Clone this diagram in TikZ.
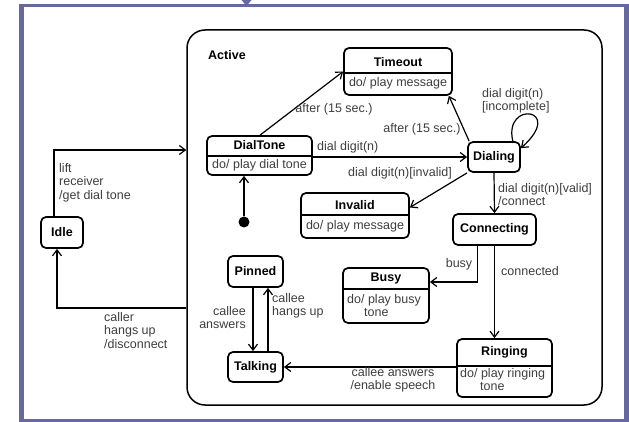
\documentclass[tikz,border=0pt]{standalone}
\usepackage{fontspec}
\setmainfont{Liberation Sans}
\usetikzlibrary{arrows.meta}
\definecolor{framecol}{RGB}{104,104,160}
\definecolor{labelgrey}{RGB}{62,62,62}
\begin{document}
\begin{tikzpicture}[x=1pt,y=-1pt,
  txt/.style={font=\fontsize{12.5}{13.5}\selectfont, text=labelgrey, inner sep=0pt},
  ttl/.style={font=\fontsize{12.5}{13.5}\selectfont\bfseries, text=black, inner sep=0pt},
  box/.style={draw, line width=1.7pt, rounded corners=5pt, inner sep=0pt},
  sep/.style={line width=1.3pt},
  arr/.style={line width=1.2pt, -{Straight Barb[length=6pt,width=9pt,line width=1.2pt]}}]

\useasboundingbox (0,0) rectangle (629,422);

% outer frame with its entry marker
\draw[framecol, line width=3pt] (21.5,5.5) rectangle (626.5,420);
\draw[framecol, line width=5pt] (21.5,4) -- (21.5,421.5);
\draw[framecol, line width=5pt] (626.5,4) -- (626.5,421.5);
\fill[framecol] (241.5,0) -- (251.5,0) -- (246.5,6) -- cycle;

% composite state
\node[draw, line width=1.5pt, rounded corners=18pt, minimum width=415pt, minimum height=375pt] (active) at (394.5,217.5) {};
\node[ttl, anchor=west] (activet) at (208,55) {Active};

% simple states
\node[box, minimum width=42pt, minimum height=31pt] (idle) at (62,232.5) {};
\node[ttl] (idlet) at (idle) {Idle};

\node[box, minimum width=52pt, minimum height=30pt] (dialing) at (494,157) {};
\node[ttl] (dialingt) at (dialing) {Dialing};

\node[box, minimum width=83pt, minimum height=31pt] (connecting) at (494.5,229.5) {};
\node[ttl] (connectingt) at (connecting) {Connecting};

\node[box, minimum width=55pt, minimum height=31pt] (pinned) at (255.5,271.5) {};
\node[ttl] (pinnedt) at (pinned) {Pinned};

\node[box, minimum width=55pt, minimum height=30pt] (talking) at (255.5,367) {};
\node[ttl] (talkingt) at (talking) {Talking};

% states with an activity compartment
\node[box, minimum width=108pt, minimum height=47pt] (timeout) at (398,71.5) {};
\draw[sep] (timeout.west |- 0,73) -- (timeout.east |- 0,73);
\node[ttl] (timeoutt) at (398,62) {Timeout};
\node[txt] (timeoutd) at (398,83.5) {do/ play message};

\node[box, minimum width=105pt, minimum height=39pt] (dialtone) at (259.5,155.5) {};
\draw[sep] (dialtone.west |- 0,156) -- (dialtone.east |- 0,156);
\node[ttl] (dialtonet) at (259.5,145) {DialTone};
\node[txt] (dialtoned) at (259.5,165.5) {do/ play dial tone};

\node[box, minimum width=108pt, minimum height=45pt] (invalid) at (355,215.5) {};
\draw[sep] (invalid.west |- 0,215) -- (invalid.east |- 0,215);
\node[ttl] (invalidt) at (355,205) {Invalid};
\node[txt] (invalidd) at (355,226) {do/ play message};

\node[box, minimum width=86pt, minimum height=55pt] (busy) at (386,295.5) {};
\draw[sep] (busy.west |- 0,289) -- (busy.east |- 0,289);
\node[ttl] (busyt) at (386,278) {Busy};
\node[txt, anchor=north west, align=left] (busyd) at (347,294) {do/ play busy\\\hspace*{17pt}tone};

\node[box, minimum width=95pt, minimum height=58pt] (ringing) at (504.5,368) {};
\draw[sep] (ringing.west |- 0,366) -- (ringing.east |- 0,366);
\node[ttl] (ringingt) at (504.5,352) {Ringing};
\node[txt, anchor=north west, align=left] (ringingd) at (460,368) {do/ play ringing\\\hspace*{20pt}tone};

% initial pseudo-state
\node[circle, fill=black, inner sep=0pt, minimum size=11pt] (init) at (244,222) {};

% transitions
\draw[arr] (init) -- (init |- dialtone.south);

\draw[arr] ([xshift=-8pt]idle.north) |- (active.west |- 0,150);
\node[txt, anchor=north west, align=left] (liftl) at (59,163) {lift\\receiver\\/get dial tone};

\draw[arr] (active.west |- 0,308) -| ([xshift=-5pt]idle.south);
\node[txt, anchor=north west, align=left] (hangl) at (104,312) {caller\\hangs up\\/disconnect};

\draw[arr] ([xshift=0.5pt]dialtone.north) -- (timeout.west);
\node[txt] (after1) at (334,109) {after (15 sec.)};

\draw[arr] ([xshift=2pt]dialing.north west) -- ([xshift=-4pt]timeout.south east);
\node[txt] (after2) at (422,129) {after (15 sec.)};

\draw[arr] (dialtone.east |- dialing.west) -- (dialing.west);
\node[txt, anchor=west] (digitl) at (317,147) {dial digit(n)};

\draw[arr] (dialing.south west) -- ([yshift=8pt]invalid.east);
\node[txt] (invalidl) at (400,173) {dial digit(n)[invalid]};

\draw[arr] ([xshift=-8pt]dialing.north east) .. controls (503,100) and (566,108) .. ([yshift=-7pt]dialing.north east);
\node[txt, anchor=north west, align=left] (incl) at (482,88) {dial digit(n)\\{}[incomplete]};

\draw[arr] (dialing.south) -- (connecting.north);
\node[txt, anchor=north west, align=left] (validl) at (498,183) {dial digit(n)[valid]\\/connect};

\draw[arr] ([xshift=-17pt]connecting.south) |- ([yshift=13.5pt]busy.east);
\node[txt] (busyl) at (459,264) {busy};

\draw[arr] (connecting.south) -- (connecting.south |- ringing.north);
\node[txt, anchor=west] (connl) at (501,271) {connected};

\draw[arr] (ringing.west |- talking.east) -- (talking.east);
\node[txt, anchor=north, align=center] (answerl) at (393,367) {callee answers\\/enable speech};

\draw[arr] ([xshift=-2.5pt]pinned.south) -- ([xshift=-2.5pt]talking.north);
\node[txt, anchor=north east, align=right] (calleeal) at (246,306) {callee\\answers};

\draw[arr] ([xshift=12.5pt]talking.north) -- ([xshift=12.5pt]pinned.south);
\node[txt, anchor=north west, align=left] (calleehl) at (272,293) {callee\\hangs up};
\end{tikzpicture}
\end{document}
